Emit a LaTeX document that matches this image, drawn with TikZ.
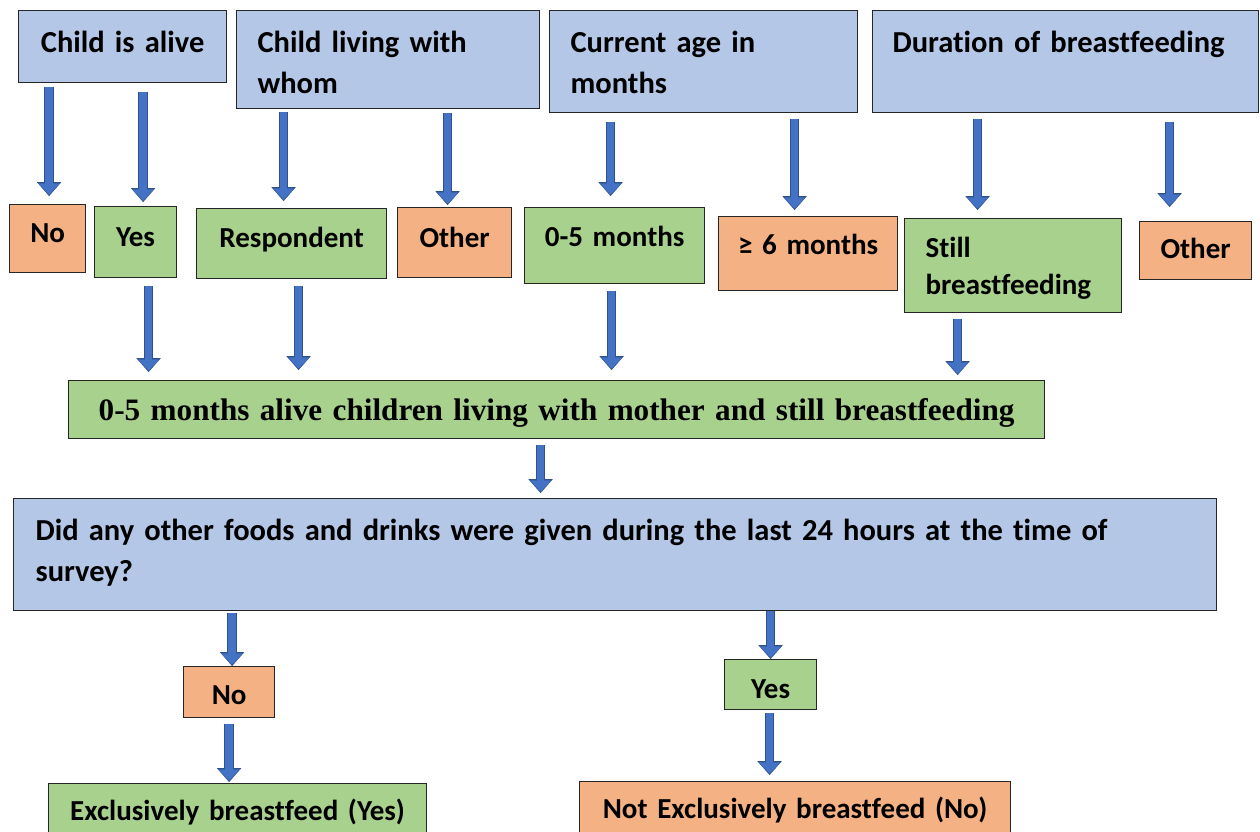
\documentclass[tikz,border=0pt]{standalone}
\usepackage{fontspec}
\setmainfont{Carlito}[Ligatures=NoCommon]
\newfontfamily\serifbold{Liberation Serif}
\usepackage{tikz}
\usetikzlibrary{arrows.meta}

\definecolor{headblue}{HTML}{B4C7E7}
\definecolor{yesgreen}{HTML}{A9D18E}
\definecolor{noorange}{HTML}{F4B183}
\definecolor{arrowblue}{HTML}{4472C4}
\definecolor{arrowedge}{HTML}{2F528F}
\definecolor{boxedge}{HTML}{262626}

\begin{document}
\begin{tikzpicture}[x=1pt, y=-1pt,
	box/.style={draw=boxedge, line width=1.2pt, anchor=north west, inner xsep=0pt, inner ysep=0pt, align=center, font=\bfseries\fontsize{29}{37}\selectfont},
	headbox/.style={box, fill=headblue, inner xsep=21pt, align=left, font=\bfseries\fontsize{30.5}{41}\selectfont},
	greenbox/.style={box, fill=yesgreen},
	orangebox/.style={box, fill=noorange},
	flow/.style={draw=arrowblue, line width=7.5pt, -{Triangle[width=21pt,length=11pt,line width=0.4pt,sep=1.5pt]},
		preaction={draw=arrowedge, line width=9.5pt, -{Triangle[width=24.5pt,length=14pt,line width=0.4pt]}}}]
	\useasboundingbox (0,0) rectangle (1260,831);
	\clip (0,0) rectangle (1260,831);

	\node[headbox, align=center, inner xsep=0pt, text width=208pt, text height=42pt, text depth=30pt] (alive) at (18,10) {Child is alive};
	\node[headbox, text width=261pt, text height=42pt, text depth=56pt] (living) at (236,10) {Child living with\\whom};
	\node[headbox, text width=266pt, text height=42pt, text depth=60pt] (age) at (549,10) {Current age in\\months};
	\node[headbox, inner xsep=20pt, text width=346pt, text height=42pt, text depth=60pt] (duration) at (872,10) {\mbox{Duration of breastfeeding}};

	\node[orangebox, text width=76pt, text height=38pt, text depth=30pt] (aliveno) at (9,204) {No};
	\node[greenbox, text width=82pt, text height=40pt, text depth=31pt] (aliveyes) at (94,206) {Yes};
	\node[greenbox, text width=190pt, text height=39pt, text depth=31pt] (resp) at (196,208) {Respondent};
	\node[orangebox, text width=114pt, text height=40pt, text depth=30pt] (otherwho) at (397,207) {Other};
	\node[greenbox, text width=180pt, text height=39pt, text depth=37pt] (young) at (524,207) {0-5 months};
	\node[orangebox, text width=179pt, text height=38pt, text depth=36pt] (older) at (718,216) {≥ 6 months};
	\node[greenbox, align=left, inner xsep=21pt, text width=175pt, text height=39pt, text depth=55pt] (still) at (904,218) {Still\\breastfeeding};
	\node[orangebox, text width=112pt, text height=37pt, text depth=21pt] (otherbf) at (1139,221) {Other};

	\node[greenbox, text width=976pt, text height=40pt, text depth=18pt, font=\serifbold\bfseries\fontsize{31.2}{38}\selectfont] (cohort) at (68,380) {0-5 months alive children living with mother and still breastfeeding};

	\node[headbox, inner xsep=22pt, text width=1159pt, text height=42pt, text depth=70pt] (question) at (13,498) {Did any other foods and drinks were given during the last 24 hours at the time of\\survey?};

	\node[orangebox, text width=91pt, text height=38pt, text depth=13pt] (excno) at (183,666) {No};
	\node[greenbox, text width=92pt, text height=39pt, text depth=11pt] (excyes) at (724,659) {Yes};
	\node[greenbox, text width=378pt, text height=37pt, text depth=30pt] (exclusive) at (48,783) {Exclusively breastfeed (Yes)};
	\node[orangebox, text width=431pt, text height=37pt, text depth=32pt] (notexclusive) at (579,781) {Not Exclusively breastfeed (No)};

	\draw[flow, shorten <=4pt, shorten >=8pt] ([xshift=1.5pt]aliveno.north |- alive.south) -- ([xshift=1.5pt]aliveno.north);
	\draw[flow, shorten <=9pt, shorten >=4pt] ([xshift=7.5pt]aliveyes.north |- alive.south) -- ([xshift=7.5pt]aliveyes.north);
	\draw[flow, shorten <=3pt, shorten >=7pt] ([xshift=-8pt]resp.north |- living.south) -- ([xshift=-8pt]resp.north);
	\draw[flow, shorten <=4pt, shorten >=2pt] ([xshift=-7pt]otherwho.north |- living.south) -- ([xshift=-7pt]otherwho.north);
	\draw[flow, shorten <=9pt, shorten >=11pt] ([xshift=-4pt]young.north |- age.south) -- ([xshift=-4pt]young.north);
	\draw[flow, shorten <=6pt, shorten >=6pt] ([xshift=-13.5pt]older.north |- age.south) -- ([xshift=-13.5pt]older.north);
	\draw[flow, shorten <=6pt, shorten >=8pt] ([xshift=-35.5pt]still.north |- duration.south) -- ([xshift=-35.5pt]still.north);
	\draw[flow, shorten <=9pt, shorten >=14pt] ([xshift=-26pt]otherbf.north |- duration.south) -- ([xshift=-26pt]otherbf.north);

	\draw[flow, shorten <=8pt, shorten >=8pt] ([xshift=13pt]aliveyes.south) -- ([xshift=13pt]aliveyes.south |- cohort.north);
	\draw[flow, shorten <=7pt, shorten >=10pt] ([xshift=7pt]resp.south) -- ([xshift=7pt]resp.south |- cohort.north);
	\draw[flow, shorten <=7pt, shorten >=10pt] ([xshift=-3pt]young.south) -- ([xshift=-3pt]young.south |- cohort.north);
	\draw[flow, shorten <=6pt, shorten >=5pt] ([xshift=-55.5pt]still.south) -- ([xshift=-55.5pt]still.south |- cohort.north);

	\draw[flow, shorten <=6pt, shorten >=5pt] ([xshift=-16pt]cohort.south) -- ([xshift=-16pt]cohort.south |- question.north);

	\draw[flow, shorten <=2pt] ([xshift=3pt]excno.north |- question.south) -- ([xshift=3pt]excno.north);
	\draw[flow] (excyes.north |- question.south) -- (excyes.north);
	\draw[flow, shorten <=6pt, shorten >=1pt] (excno.south) -- (excno.south |- exclusive.north);
	\draw[flow, shorten <=3pt, shorten >=6pt] ([xshift=-1pt]excyes.south) -- ([xshift=-1pt]excyes.south |- notexclusive.north);
\end{tikzpicture}
\end{document}
